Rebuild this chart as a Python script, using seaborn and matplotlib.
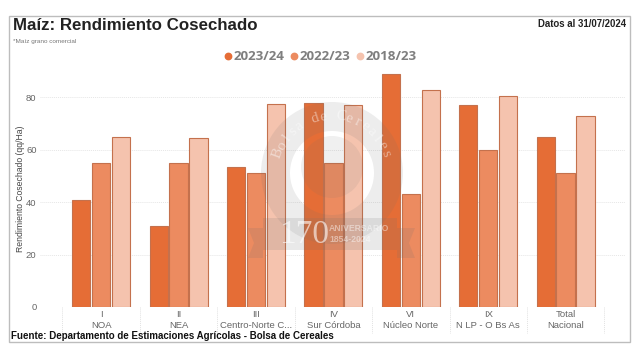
# -*- coding: utf-8 -*-
import matplotlib
matplotlib.use('Agg')
import matplotlib.pyplot as plt
from matplotlib.lines import Line2D
from matplotlib.patches import Circle, Rectangle, Wedge, Polygon
from matplotlib.transforms import IdentityTransform
import numpy as np
import pandas as pd
import seaborn as sns

regiones = ['I\nNOA', 'II\nNEA', 'III\nCentro-Norte C...', 'IV\nSur Córdoba',
            'VI\nNúcleo Norte', 'IX\nN LP - O Bs As', 'Total\nNacional']
campanas = ['2023/24', '2022/23', '2018/23']
val_2324 = [41, 31, 53.5, 78, 89, 77, 65]
val_2223 = [55, 55, 51, 55, 43, 60, 51]
val_1823 = [65, 64.5, 77.5, 77, 83, 80.5, 73]
colores = ['#E56D36', '#EC8B60', '#F5C3AE']
yticks = [0, 20, 40, 60, 80]

W, H = 640, 355

sns.set_style('white')
plt.rcParams['font.family'] = ['Liberation Sans', 'DejaVu Sans']

# long table for seaborn
df = pd.DataFrame({
    'region': regiones * 3,
    'campana': sum([[c] * len(regiones) for c in campanas], []),
    'valor': val_2324 + val_2223 + val_1823,
})

fig = plt.figure(figsize=(W / 100, H / 100), dpi=100)
ax = fig.add_axes([40 / W, 1 - 307 / H, 585 / W, 247 / H])

sns.barplot(data=df, x='region', y='valor', hue='campana', order=regiones,
            hue_order=campanas, palette=colores, saturation=1, width=0.77, gap=0.08,
            edgecolor='#C4714D', linewidth=0.8, legend=False, ax=ax)

ax.set_xlim(-0.79, 6.767)
ax.set_ylim(0, 94.3)
ax.set_yticks(yticks)
ax.set_xlabel('')
ax.set_ylabel('Rendimiento Cosechado (qq/Ha)', fontsize=6.2, color='#444444', labelpad=1, y=0.48)
ax.tick_params(axis='y', labelsize=6.8, labelcolor='#666666', length=0, pad=2.5)
ax.tick_params(axis='x', labelsize=6.8, labelcolor='#666666', length=0, pad=2.5)
ax.grid(axis='y', color='#E6E6E6', linestyle=(0, (1, 1)), linewidth=0.7)
ax.set_axisbelow(True)
sns.despine(ax=ax, left=True, bottom=True, top=True, right=True)

# dotted separators under the axis
for i in range(len(regiones) + 1):
    ax.plot([i - 0.5, i - 0.5], [0, -10], color='#E2E2E2', linestyle=(0, (1, 1)),
            linewidth=0.7, clip_on=False, zorder=0)

# outer frame
fig.add_artist(Rectangle((9 / W, 1 - 342 / H), 621 / W, 326 / H, transform=fig.transFigure,
                         fill=False, edgecolor='#BDBDBD', linewidth=1))

# watermark, in pixels from the bottom left
gris = '#6E6E6E'
px = IdentityTransform()
fig.add_artist(Wedge((332, H - 173), 71, 0, 360, width=29, transform=px,
                     color=gris, alpha=0.12, linewidth=0))
fig.add_artist(Circle((332, H - 167), 31, transform=px, color=gris, alpha=0.1, linewidth=0))
fig.add_artist(Rectangle((263, H - 250), 134, 32, transform=px, color=gris, alpha=0.15, linewidth=0))
fig.add_artist(Polygon([(248, H - 228), (263, H - 228), (263, H - 258), (248, H - 258), (254, H - 243)],
                       transform=px, color=gris, alpha=0.15, linewidth=0))
fig.add_artist(Polygon([(415, H - 228), (397, H - 228), (397, H - 258), (415, H - 258), (409, H - 243)],
                       transform=px, color=gris, alpha=0.15, linewidth=0))
leyenda = 'Bolsa de Cereales'
for letra, ang in zip(leyenda, np.linspace(160, 20, len(leyenda))):
    t = np.deg2rad(ang)
    fig.text((332 + 57 * np.cos(t)) / W, (H - 173 + 57 * np.sin(t)) / H, letra, fontsize=11,
             family='Liberation Serif', color='white', alpha=0.45, rotation=ang - 90,
             ha='center', va='center')
fig.text(304 / W, 1 - 235 / H, '170', fontsize=24, family='Liberation Serif',
         color='white', alpha=0.6, ha='center', va='center')
fig.text(329 / W, 1 - 234 / H, 'ANIVERSARIO\n1854-2024', fontsize=6.2, weight='bold', linespacing=1.3,
         color='white', alpha=0.45, ha='left', va='center')

# texts
fig.text(13 / W, 1 - 26 / H, 'Maíz: Rendimiento Cosechado', fontsize=12.2, weight='bold',
         color='#222222', va='center')
fig.text(13 / W, 1 - 41 / H, '*Maíz grano comercial', fontsize=4.6, color='#777777', va='center')
fig.text(626 / W, 1 - 24 / H, 'Datos al 31/07/2024', fontsize=6.95, weight='bold',
         color='#222222', ha='right', va='center')
fig.text(11 / W, 1 - 336 / H, 'Fuente: Departamento de Estimaciones Agrícolas - Bolsa de Cereales',
         fontsize=7.05, weight='bold', color='#111111', va='center')

handles = [Line2D([], [], linestyle='', marker='o', markersize=4.6, color=c) for c in colores]
fig.legend(handles, campanas, loc='center', bbox_to_anchor=(320 / W, 1 - 57 / H), ncol=3,
           frameon=False, handletextpad=0.12, columnspacing=0.42, handlelength=0.6,
           prop={'family': 'Open Sans', 'weight': 'bold', 'size': 9.6}, labelcolor='#7F7F7F')

fig.savefig('out.png', dpi=100)
plt.close(fig)
